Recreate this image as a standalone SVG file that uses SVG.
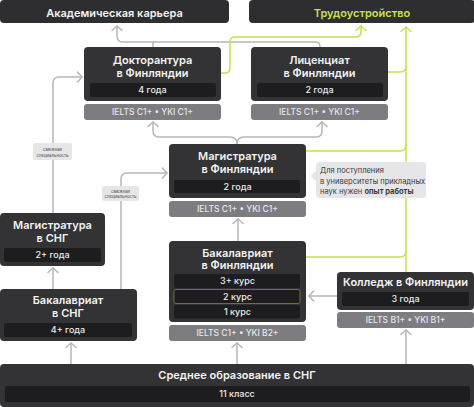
<svg xmlns="http://www.w3.org/2000/svg" width="474" height="407" viewBox="0 0 474 407">
<defs>
<style>
.n{fill:#333335}
.top{fill:#2e2e30}
.bar{fill:#1d1d1f}
.req{fill:#7c7c81}
.t{font-family:Inter,"Liberation Sans",sans-serif;font-size:11px;font-weight:600;fill:#f2f2f2;text-anchor:middle}
.s{font-family:Inter,"Liberation Sans",sans-serif;font-size:9px;font-weight:500;fill:#ececec;text-anchor:middle}
.r{font-family:Inter,"Liberation Sans",sans-serif;font-size:8.5px;font-weight:500;fill:#e6e6e8;text-anchor:middle}
.g{fill:none;stroke:#b6b6ba;stroke-width:1.5;stroke-linecap:round;stroke-linejoin:round}
.y{fill:none;stroke:#c9e04f;stroke-width:1.5;stroke-linecap:round;stroke-linejoin:round}
.lbl{fill:#e6e6e8}
.lt{font-family:Inter,"Liberation Sans",sans-serif;font-size:4.3px;fill:#444;text-anchor:middle}
.ct{font-family:Inter,"Liberation Sans",sans-serif;font-size:7.5px;fill:#3a3a3c}
</style>
<marker id="ag" viewBox="-6 -6 12 12" markerUnits="userSpaceOnUse" markerWidth="12" markerHeight="12" refX="0" refY="0" orient="auto">
<path d="M-4.5,-5 L0,0 L-4.5,5" fill="none" stroke="#b6b6ba" stroke-width="1.5" stroke-linecap="round" stroke-linejoin="round"/>
</marker>
<marker id="ay" viewBox="-6 -6 12 12" markerUnits="userSpaceOnUse" markerWidth="12" markerHeight="12" refX="0" refY="0" orient="auto">
<path d="M-4.5,-5 L0,0 L-4.5,5" fill="none" stroke="#c9e04f" stroke-width="1.5" stroke-linecap="round" stroke-linejoin="round"/>
</marker>
</defs>
<rect width="474" height="407" fill="#ffffff"/>

<g id="connectors">
<!-- gray -->
<path class="g" d="M71 364 V343" marker-end="url(#ag)"/>
<path class="g" d="M237 364 V343" marker-end="url(#ag)"/>
<path class="g" d="M406 364 V330" marker-end="url(#ag)"/>
<path class="g" d="M337 296 H309" marker-end="url(#ag)"/>
<path class="g" d="M238 241 V219" marker-end="url(#ag)"/>
<path class="g" d="M53 289 V268" marker-end="url(#ag)"/>
<path class="g" d="M121 289 V179 Q121 173 127 173 H167" marker-end="url(#ag)"/>
<path class="g" d="M53 213 V83 Q53 77 59 77 H82" marker-end="url(#ag)"/>
<path class="g" d="M237 144 Q237 137 230 137 H159 Q153 137 153 131 V122" marker-end="url(#ag)"/>
<path class="g" d="M237 144 Q237 137 244 137 H316 Q322 137 322 131 V122" marker-end="url(#ag)"/>
<path class="g" d="M320 47 Q320 42 315 42 H123 Q117 42 117 36 V26" marker-end="url(#ag)"/>
<path class="g" d="M153 47 V42"/>
<!-- green -->
<path class="y" d="M221 73 H225 Q230 73 230 68 V42 Q230 37 235 37 H355 Q361 37 361 32 V26" marker-end="url(#ay)"/>
<path class="y" d="M406 272 V27" marker-end="url(#ay)"/>
<path class="y" d="M388 72 H400 Q406 72 406 66"/>
<path class="y" d="M306 151 H400 Q406 151 406 145"/>
<path class="y" d="M306 257 H400 Q406 257 406 251"/>
<!-- labels -->
<rect class="lbl" x="33" y="143" width="39" height="17" rx="2"/>
<text class="lt" x="52.5" y="150.5">смежная</text>
<text class="lt" x="52.5" y="156.5">специальность</text>
<rect class="lbl" x="102" y="186" width="37" height="15" rx="2"/>
<text class="lt" x="120.5" y="192.5">смежная</text>
<text class="lt" x="120.5" y="198">специальность</text>
</g>

<g id="academic">
<rect class="top" x="0" y="0" width="229" height="23" rx="4"/>
<text class="t" x="114.5" y="16.5">Академическая карьера</text>
</g>

<g id="employment">
<rect class="top" x="249" y="0" width="226" height="23" rx="4"/>
<text class="t" x="362" y="16.5" style="fill:#c9e04f">Трудоустройство</text>
</g>

<g id="doctorate">
<rect class="n" x="84" y="47" width="137" height="54" rx="4"/>
<text class="t" x="152.5" y="64">Докторантура</text>
<text class="t" x="152.5" y="76.5">в Финляндии</text>
<rect class="bar" x="90" y="83" width="126" height="14" rx="2"/>
<text class="s" x="152.5" y="93.2">4 года</text>
<rect class="req" x="84" y="104" width="137" height="16" rx="3"/>
<text class="r" x="152.5" y="115">IELTS C1+ • YKI C1+</text>
</g>

<g id="licentiate">
<rect class="n" x="251" y="47" width="137" height="54" rx="4"/>
<text class="t" x="319.5" y="64">Лиценциат</text>
<text class="t" x="319.5" y="76.5">в Финляндии</text>
<rect class="bar" x="257" y="83" width="126" height="14" rx="2"/>
<text class="s" x="319.5" y="93.2">2 года</text>
<rect class="req" x="251" y="104" width="137" height="16" rx="3"/>
<text class="r" x="319.5" y="115">IELTS C1+ • YKI C1+</text>
</g>

<g id="master-fi">
<rect class="n" x="169" y="144" width="137" height="54" rx="4"/>
<text class="t" x="237.5" y="160">Магистратура</text>
<text class="t" x="237.5" y="172.5">в Финляндии</text>
<rect class="bar" x="174" y="180" width="126" height="13" rx="2"/>
<text class="s" x="237.5" y="189.7">2 года</text>
<rect class="req" x="169" y="201" width="137" height="16" rx="3"/>
<text class="r" x="237.5" y="212">IELTS C1+ • YKI C1+</text>
</g>

<g id="note">
<path d="M320 162 H422 Q426 162 426 166 V194 Q426 198 422 198 H320 Q316 198 316 194 V181 L310.5 176 L316 171 V166 Q316 162 320 162 Z" fill="#e6e6e8"/>
<text class="ct" x="320" y="173">Для поступления</text>
<text class="ct" x="320" y="183.5">в университеты прикладных</text>
<text class="ct" x="320" y="194">наук нужен <tspan font-weight="700">опыт работы</tspan></text>
</g>

<g id="master-cis">
<rect class="n" x="0" y="213" width="105" height="53" rx="4"/>
<text class="t" x="52.5" y="229">Магистратура</text>
<text class="t" x="52.5" y="242">в СНГ</text>
<rect class="bar" x="4" y="248" width="97" height="14" rx="2"/>
<text class="s" x="52.5" y="258.2">2+ года</text>
</g>

<g id="bachelor-fi">
<rect class="n" x="169" y="241" width="137" height="81" rx="4"/>
<text class="t" x="237.5" y="256.5">Бакалавриат</text>
<text class="t" x="237.5" y="269">в Финляндии</text>
<rect class="bar" x="174" y="274" width="126" height="14" rx="2"/>
<text class="s" x="237.5" y="284.2">3+ курс</text>
<rect class="bar" x="174" y="289.5" width="126" height="14" rx="2" stroke="#6f6f3c" stroke-width="1"/>
<text class="s" x="237.5" y="299.7">2 курс</text>
<rect class="bar" x="174" y="305" width="126" height="13.5" rx="2"/>
<text class="s" x="237.5" y="315">1 курс</text>
<rect class="req" x="169" y="325" width="137" height="16" rx="3"/>
<text class="r" x="237.5" y="336">IELTS C1+ • YKI B2+</text>
</g>

<g id="college-fi">
<rect class="n" x="337" y="272" width="137" height="38" rx="4"/>
<text class="t" x="405.5" y="286">Колледж в Финляндии</text>
<rect class="bar" x="342" y="292" width="127" height="14" rx="2"/>
<text class="s" x="405.5" y="302.2">3 года</text>
<rect class="req" x="337" y="312" width="137" height="16" rx="3"/>
<text class="r" x="405.5" y="323">IELTS B1+ • YKI B1+</text>
</g>

<g id="bachelor-cis">
<rect class="n" x="0" y="289" width="137" height="52" rx="4"/>
<text class="t" x="68" y="304">Бакалавриат</text>
<text class="t" x="68" y="317">в СНГ</text>
<rect class="bar" x="4" y="323" width="128" height="14" rx="2"/>
<text class="s" x="68" y="333.2">4+ года</text>
</g>

<g id="school-cis">
<rect class="n" x="0" y="364" width="474" height="43" rx="4"/>
<text class="t" x="237" y="379">Среднее образование в СНГ</text>
<rect class="bar" x="5" y="386" width="465" height="16" rx="2"/>
<text class="s" x="237" y="397.2">11 класс</text>
</g>
</svg>
